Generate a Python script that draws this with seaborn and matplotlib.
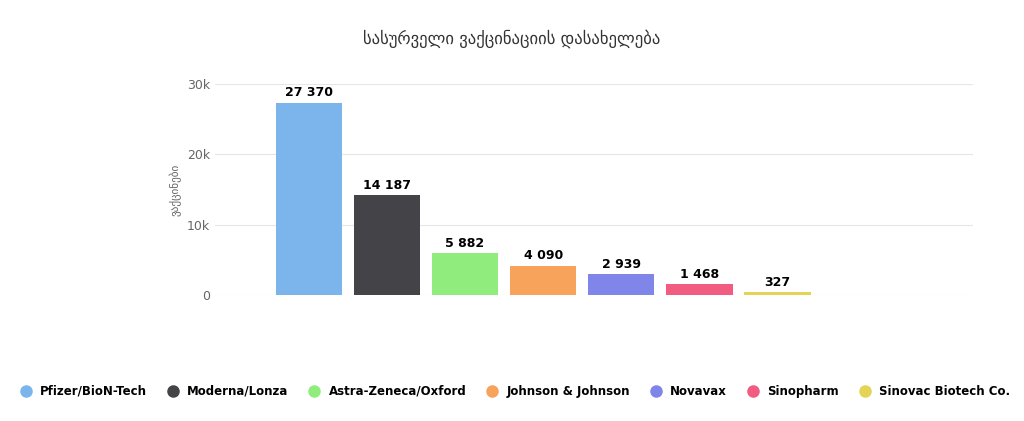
import matplotlib
matplotlib.use("Agg")
import matplotlib.pyplot as plt
import seaborn as sns
import pandas as pd

categories = ["Pfizer/BioN-Tech", "Moderna/Lonza", "Astra-Zeneca/Oxford", "Johnson & Johnson",
              "Novavax", "Sinopharm", "Sinovac Biotech Co."]
values = [27370, 14187, 5882, 4090, 2939, 1468, 327]
colors = ["#7cb5ec", "#434348", "#90ed7d", "#f7a35c", "#8085e9", "#f15c80", "#e4d354"]
yticks = [0, 10000, 20000, 30000]
yticklabels = ["0", "10k", "20k", "30k"]

df = pd.DataFrame({"cat": categories, "val": values})
fig = plt.figure(figsize=(10.24, 4.21), dpi=100)
ax = fig.add_axes([0.21, 0.3, 0.74, 0.5])
sns.barplot(data=df, x="cat", y="val", hue="cat", palette=colors, ax=ax,
            width=0.85, legend=False, edgecolor="none", saturation=1)
for i, v in enumerate(values):
    ax.text(i, v + 500, f"{v:,}".replace(",", " "), ha="center", va="bottom",
            fontsize=9, fontweight="bold")
ax.set_yticks(yticks)
ax.set_yticklabels(yticklabels, color="#666666", fontsize=9)
ax.set_ylim(0, 30000)
ax.set_xlim(-1.2, 8.5)
ax.set_xticks([])
ax.set_xlabel("")
ax.set_ylabel("ვაქცინები", fontsize=8, color="#666666")
ax.grid(axis="y", color="#e6e6e6")
ax.set_axisbelow(True)
for s in ax.spines.values():
    s.set_visible(False)
ax.tick_params(length=0)
fig.suptitle("სასურველი ვაქცინაციის დასახელება", y=0.93, fontsize=12, color="#333333")

handles = [plt.Line2D([], [], marker="o", linestyle="", color=c, markersize=8) for c in colors]
fig.legend(handles, categories, loc="lower center", ncol=7, frameon=False,
           bbox_to_anchor=(0.5, 0.03), prop={"weight": "bold", "size": 8.5},
           handletextpad=0.2, columnspacing=1.2)
fig.savefig("out.png", dpi=100)
